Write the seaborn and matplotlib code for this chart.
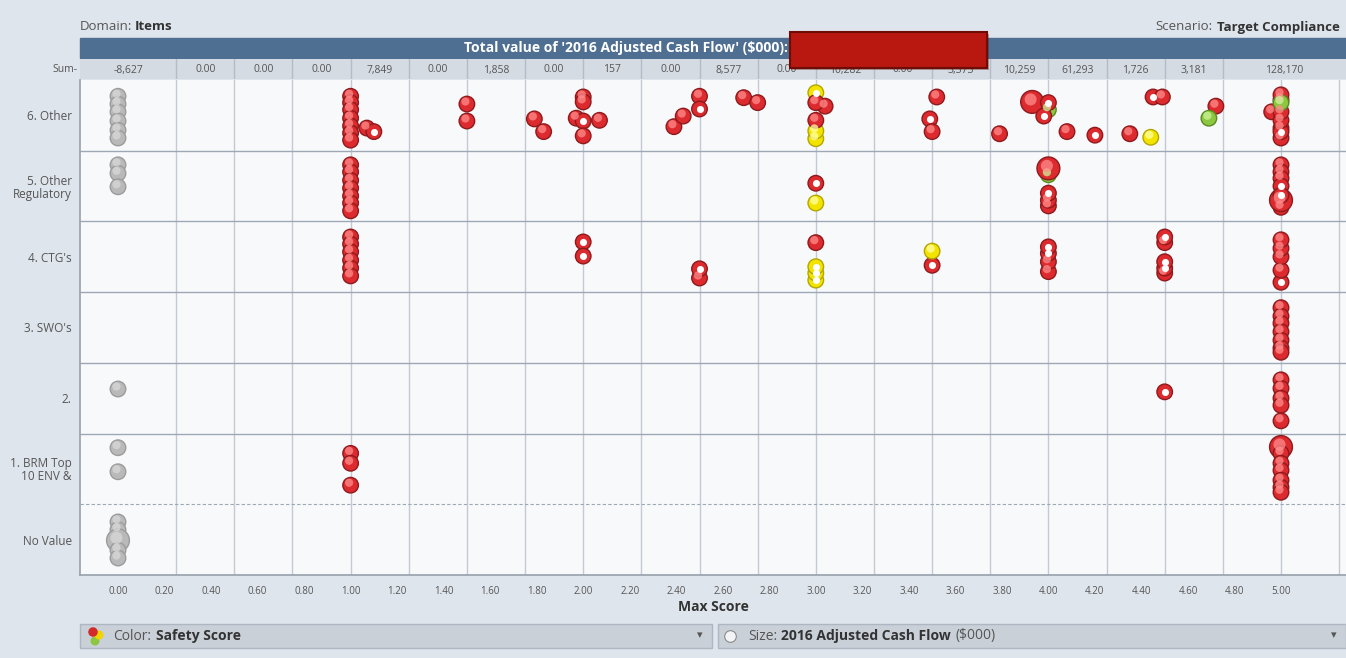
import numpy as np
import pandas as pd
import matplotlib.pyplot as plt
import matplotlib.transforms as mtransforms
from matplotlib.patches import Rectangle
import seaborn as sns

W, H = 1346, 658

categories = ['No Value', '1. BRM Top\n10 ENV &', '2.', "3. SWO's", "4. CTG's",
              '5. Other\nRegulatory', '6. Other']

# (max score, position inside the row, safety colour, marker: s solid / r ring / L big bubble)
pts_other = [
    (0.00, 0.27, 'none', 's'), (0.00, 0.16, 'none', 's'), (0.00, 0.05, 'none', 's'),
    (0.00, -0.08, 'none', 's'), (0.00, -0.21, 'none', 's'), (0.00, -0.32, 'none', 's'),
    (1.00, 0.27, 'red', 's'), (1.00, 0.18, 'red', 's'), (1.00, 0.08, 'red', 's'), (1.00, -0.04, 'red', 's'),
    (1.00, -0.15, 'red', 's'), (1.00, -0.25, 'red', 's'), (1.00, -0.35, 'red', 's'),
    (1.07, -0.18, 'red', 's'), (1.10, -0.23, 'red', 'r'),
    (1.50, 0.16, 'red', 's'), (1.50, -0.08, 'red', 's'),
    (1.79, -0.05, 'red', 's'), (1.83, -0.23, 'red', 's'),
    (2.00, 0.26, 'red', 's'), (2.00, 0.19, 'red', 's'), (1.97, -0.04, 'red', 's'), (2.07, -0.07, 'red', 's'),
    (2.00, -0.08, 'red', 'r'), (2.00, -0.29, 'red', 's'),
    (2.39, -0.16, 'red', 's'), (2.43, -0.01, 'red', 's'), (2.50, 0.27, 'red', 's'), (2.50, 0.09, 'red', 'r'),
    (2.69, 0.25, 'red', 's'), (2.75, 0.18, 'red', 's'),
    (3.00, 0.32, 'yellow', 'r'), (3.00, -0.33, 'yellow', 's'), (3.00, -0.22, 'yellow', 's'),
    (3.00, -0.07, 'red', 's'), (3.04, 0.13, 'red', 's'), (3.00, 0.18, 'red', 's'),
    (3.52, 0.26, 'red', 's'), (3.49, -0.05, 'red', 'r'), (3.50, -0.23, 'red', 's'),
    (3.79, -0.26, 'red', 's'),
    (4.00, 0.08, 'green', 's'), (3.93, 0.19, 'red', 'L'), (4.00, 0.18, 'red', 'r'), (3.98, -0.01, 'red', 'r'),
    (4.08, -0.23, 'red', 's'), (4.20, -0.28, 'red', 'r'), (4.35, -0.26, 'red', 's'), (4.44, -0.31, 'yellow', 's'),
    (4.45, 0.26, 'red', 'r'), (4.49, 0.26, 'red', 's'),
    (4.72, 0.13, 'red', 's'), (4.69, -0.04, 'green', 's'),
    (5.00, -0.32, 'red', 's'), (5.00, -0.18, 'red', 's'), (5.00, -0.23, 'red', 'r'), (4.96, 0.05, 'red', 's'),
    (5.00, -0.07, 'red', 's'), (5.00, 0.05, 'red', 's'), (5.00, 0.22, 'red', 's'), (5.00, 0.29, 'red', 's'),
    (5.00, 0.18, 'green', 's'),
]
pts_other_reg = [
    (0.00, 0.30, 'none', 's'), (0.00, 0.18, 'none', 's'), (0.00, -0.01, 'none', 's'),
    (1.00, 0.30, 'red', 's'), (1.00, 0.20, 'red', 's'), (1.00, 0.08, 'red', 's'), (1.00, -0.03, 'red', 's'),
    (1.00, -0.14, 'red', 's'), (1.00, -0.24, 'red', 's'), (1.00, -0.35, 'red', 's'),
    (3.00, 0.04, 'red', 'r'), (3.00, -0.24, 'yellow', 's'),
    (4.00, 0.16, 'green', 's'), (4.00, -0.28, 'red', 's'), (4.00, -0.20, 'red', 's'), (4.00, -0.10, 'red', 'r'),
    (4.00, 0.25, 'red', 'L'),
    (5.00, 0.30, 'red', 's'), (5.00, 0.20, 'red', 's'), (5.00, 0.11, 'red', 's'), (5.00, 0.00, 'red', 'r'),
    (5.00, -0.30, 'red', 's'), (5.00, -0.20, 'red', 'L'), (5.00, -0.13, 'red', 'r'),
]
pts_ctg = [
    (1.00, 0.28, 'red', 's'), (1.00, 0.18, 'red', 's'), (1.00, 0.07, 'red', 's'),
    (1.00, -0.05, 'red', 's'), (1.00, -0.16, 'red', 's'), (1.00, -0.27, 'red', 's'),
    (2.00, 0.21, 'red', 'r'), (2.00, 0.01, 'red', 'r'),
    (2.50, -0.30, 'red', 's'), (2.50, -0.17, 'red', 'r'),
    (3.00, 0.20, 'red', 's'), (3.00, -0.33, 'yellow', 'r'), (3.00, -0.23, 'yellow', 'r'), (3.00, -0.14, 'yellow', 'r'),
    (3.50, -0.12, 'red', 'r'), (3.50, 0.08, 'yellow', 's'),
    (4.00, -0.21, 'red', 's'), (4.00, -0.07, 'red', 's'), (4.00, 0.05, 'red', 'r'), (4.00, 0.14, 'red', 'r'),
    (4.50, -0.23, 'red', 's'), (4.50, -0.16, 'red', 'r'), (4.50, -0.07, 'red', 'r'), (4.50, 0.20, 'red', 's'),
    (4.50, 0.28, 'red', 'r'),
    (5.00, -0.36, 'red', 'r'), (5.00, -0.19, 'red', 's'), (5.00, 0.00, 'red', 's'), (5.00, 0.12, 'red', 's'),
    (5.00, 0.24, 'red', 's'),
]
pts_swo = [
    (5.00, 0.28, 'red', 's'), (5.00, 0.16, 'red', 's'), (5.00, 0.06, 'red', 's'), (5.00, -0.06, 'red', 's'),
    (5.00, -0.18, 'red', 's'), (5.00, -0.29, 'red', 's'), (5.00, -0.35, 'red', 's'),
]
pts_2 = [
    (0.00, 0.13, 'none', 's'),
    (4.50, 0.09, 'red', 'r'),
    (5.00, 0.26, 'red', 's'), (5.00, 0.14, 'red', 's'), (5.00, 0.00, 'red', 's'), (5.00, -0.10, 'red', 's'),
    (5.00, -0.32, 'red', 's'),
]
pts_brm = [
    (0.00, 0.30, 'none', 's'), (0.00, -0.04, 'none', 's'),
    (1.00, 0.22, 'red', 's'), (1.00, 0.08, 'red', 's'), (1.00, -0.23, 'red', 's'),
    (5.00, 0.31, 'red', 'L'), (5.00, 0.22, 'red', 's'), (5.00, 0.08, 'red', 's'), (5.00, -0.02, 'red', 's'),
    (5.00, -0.16, 'red', 's'), (5.00, -0.26, 'red', 's'), (5.00, -0.33, 'red', 's'),
]
pts_no_value = [
    (0.00, 0.25, 'none', 's'), (0.00, 0.14, 'none', 's'), (0.00, -0.01, 'none', 'L'),
    (0.00, -0.15, 'none', 's'), (0.00, -0.26, 'none', 's'),
]
rows = [pts_no_value, pts_brm, pts_2, pts_swo, pts_ctg, pts_other_reg, pts_other]

sum_labels = ['-8,627', '0.00', '0.00', '0.00', '7,849', '0.00', '1,858', '0.00', '157', '0.00',
              '8,577', '0.00', '10,282', '0.00', '3,373', '10,259', '61,293', '1,726', '3,181', '128,170']
x_ticks = np.round(np.arange(0, 5.01, 0.2), 2)

records = []
for i, pts in enumerate(rows):
    for score, jit, col, mk in pts:
        records.append({'score': score, 'ypos': i + jit, 'safety': col,
                        'ring': mk == 'r', 'bubble': 'large' if mk == 'L' else 'normal'})
df = pd.DataFrame(records)

face = {'red': '#dc2a2e', 'yellow': '#f3e400', 'green': '#8dc63f', 'none': '#b9b9b9'}
edge = {'red': '#8e1a1d', 'yellow': '#b3a600', 'green': '#5a8b22', 'none': '#9c9c9c'}
shine = {'red': '#ff8c8c', 'yellow': '#ffffa8', 'green': '#cdf59a', 'none': '#d8d8d8'}
sizes = {'normal': 125, 'large': 270}

sns.set_theme(style='white')
plt.rcParams['font.family'] = ['Open Sans', 'DejaVu Sans']

fig = plt.figure(figsize=(W / 100, H / 100), dpi=100)
fig.patch.set_facecolor('#dfe5ec')


def box(px0, py0, px1, py1):
    return [px0 / W, 1 - py1 / H, (px1 - px0) / W, (py1 - py0) / H]


bg = fig.add_axes([0, 0, 1, 1], zorder=0)
bg.set_xlim(0, W)
bg.set_ylim(H, 0)
bg.axis('off')

ax = fig.add_axes(box(80, 80, 1346, 575), zorder=2)
ax.set_facecolor('#f8f9fb')
xmin, xmax = (80 - 118) / 232.6, (1346 - 118) / 232.6
ax.set_xlim(xmin, xmax)
ax.set_ylim(-0.5, 6.5)

for g in np.arange(0.25, 5.3, 0.25):
    ax.axvline(g, color='#c3cad3', lw=1, zorder=0)
for b in np.arange(1.5, 6.5, 1):
    ax.axhline(b, color='#9ea8b5', lw=1, zorder=0)
ax.axhline(0.5, color='#9ea8b5', lw=0.8, ls=(0, (3, 2)), zorder=0)

sns.scatterplot(data=df, x='score', y='ypos', hue='safety', palette=face, size='bubble', sizes=sizes,
                linewidth=1, legend=False, ax=ax, zorder=3)
ax.collections[-1].set_edgecolor(df['safety'].map(edge).tolist())

# glossy highlight on solid bubbles, white hole on ring bubbles
solid = df[~df['ring']]
shift = mtransforms.offset_copy(ax.transData, fig=fig, x=-1.5, y=2.5, units='dots')
ax.scatter(solid['score'], solid['ypos'], s=solid['bubble'].map(sizes) * 0.28,
           c=solid['safety'].map(shine).tolist(), linewidths=0, alpha=0.75, transform=shift, zorder=4)
rings = df[df['ring']]
ax.scatter(rings['score'], rings['ypos'], s=26, c='white', linewidths=0, zorder=5)

ax.set_xticks(x_ticks)
ax.set_xticklabels([f'{t:.2f}' for t in x_ticks], fontsize=7, color='#555')
ax.set_yticks(range(len(categories)))
ax.set_yticklabels(categories, fontsize=8.5, color='#555', linespacing=1.0)
ax.tick_params(axis='both', length=3, width=0.8, color='#777', pad=3)
ax.tick_params(axis='x', pad=5)
ax.set_xlabel('Max Score', fontsize=10, fontweight='bold', color='#333', labelpad=2)
ax.set_ylabel('')
for side in ['top', 'right']:
    ax.spines[side].set_visible(False)
for side in ['left', 'bottom']:
    ax.spines[side].set_color('#9aa3ae')

# sum row
sum_ax = fig.add_axes(box(80, 59, 1346, 79), zorder=2)
sum_ax.set_facecolor('#d4dbe3')
sum_ax.set_xlim(xmin, xmax)
sum_ax.set_ylim(0, 1)
edges = [xmin] + list(np.arange(0.25, 4.76, 0.25)) + [xmax]
for e in edges[1:-1]:
    sum_ax.axvline(e, color='#b3bcc7', lw=1)
for lab, a, b in zip(sum_labels, edges[:-1], edges[1:]):
    sum_ax.text((a + b) / 2, 0.45, lab, ha='center', va='center', fontsize=7.5, color='#555')
sum_ax.set_xticks([])
sum_ax.set_yticks([])
for s in sum_ax.spines.values():
    s.set_visible(False)
bg.text(78, 69, 'Sum-', ha='right', va='center', fontsize=7.5, color='#555')

# header
bg.add_patch(Rectangle((80, 38), 1266, 20, color='#4f6f92'))
bg.text(788, 48, "Total value of '2016 Adjusted Cash Flow' ($000):", ha='right', va='center',
        color='white', fontsize=10, fontweight='bold')
bg.text(80, 27, 'Domain:', va='center', fontsize=9.5, color='#555')
bg.text(135, 27, 'Items', va='center', fontsize=9.5, color='#333', fontweight='bold')
bg.text(1212, 27, 'Scenario:', ha='right', va='center', fontsize=9.5, color='#555')
bg.text(1217, 27, 'Target Compliance', va='center', fontsize=9.5, color='#333', fontweight='bold')

# bottom selectors
bg.add_patch(Rectangle((80, 624), 632, 24, fc='#c9d0d8', ec='#adb6c1', lw=1))
bg.add_patch(Rectangle((718, 624), 628, 24, fc='#c9d0d8', ec='#adb6c1', lw=1))
bg.scatter([95, 99, 93], [641, 635, 632], s=[30, 30, 34], c=['#8dc63f', '#f2d400', '#d32a2a'], zorder=3)
bg.text(113, 636, 'Color:', va='center', fontsize=10, color='#555')
bg.text(156, 636, 'Safety Score', va='center', fontsize=10, color='#333', fontweight='bold')
bg.text(700, 636, '▾', ha='center', va='center', fontsize=8, color='#555')
bg.scatter([730], [636], s=70, c='#f2f4f7', edgecolors='#8a8a8a', linewidths=0.8, zorder=3)
bg.text(748, 636, 'Size:', va='center', fontsize=10, color='#555')
bg.text(781, 636, '2016 Adjusted Cash Flow', va='center', fontsize=10, color='#333', fontweight='bold')
bg.text(955, 636, '($000)', va='center', fontsize=10, color='#555')
bg.text(1334, 636, '▾', ha='center', va='center', fontsize=8, color='#555')

# redaction block over the header
fg = fig.add_axes([0, 0, 1, 1], zorder=5)
fg.set_xlim(0, W)
fg.set_ylim(H, 0)
fg.axis('off')
fg.patch.set_alpha(0)
fg.add_patch(Rectangle((792, 34), 197, 36, fc='#5a0a05', alpha=0.35, lw=0))
fg.add_patch(Rectangle((790, 32), 197, 36, fc='#b8180f', ec='#700c06', lw=1.5))

fig.savefig('out.png', dpi=100, facecolor=fig.get_facecolor())
